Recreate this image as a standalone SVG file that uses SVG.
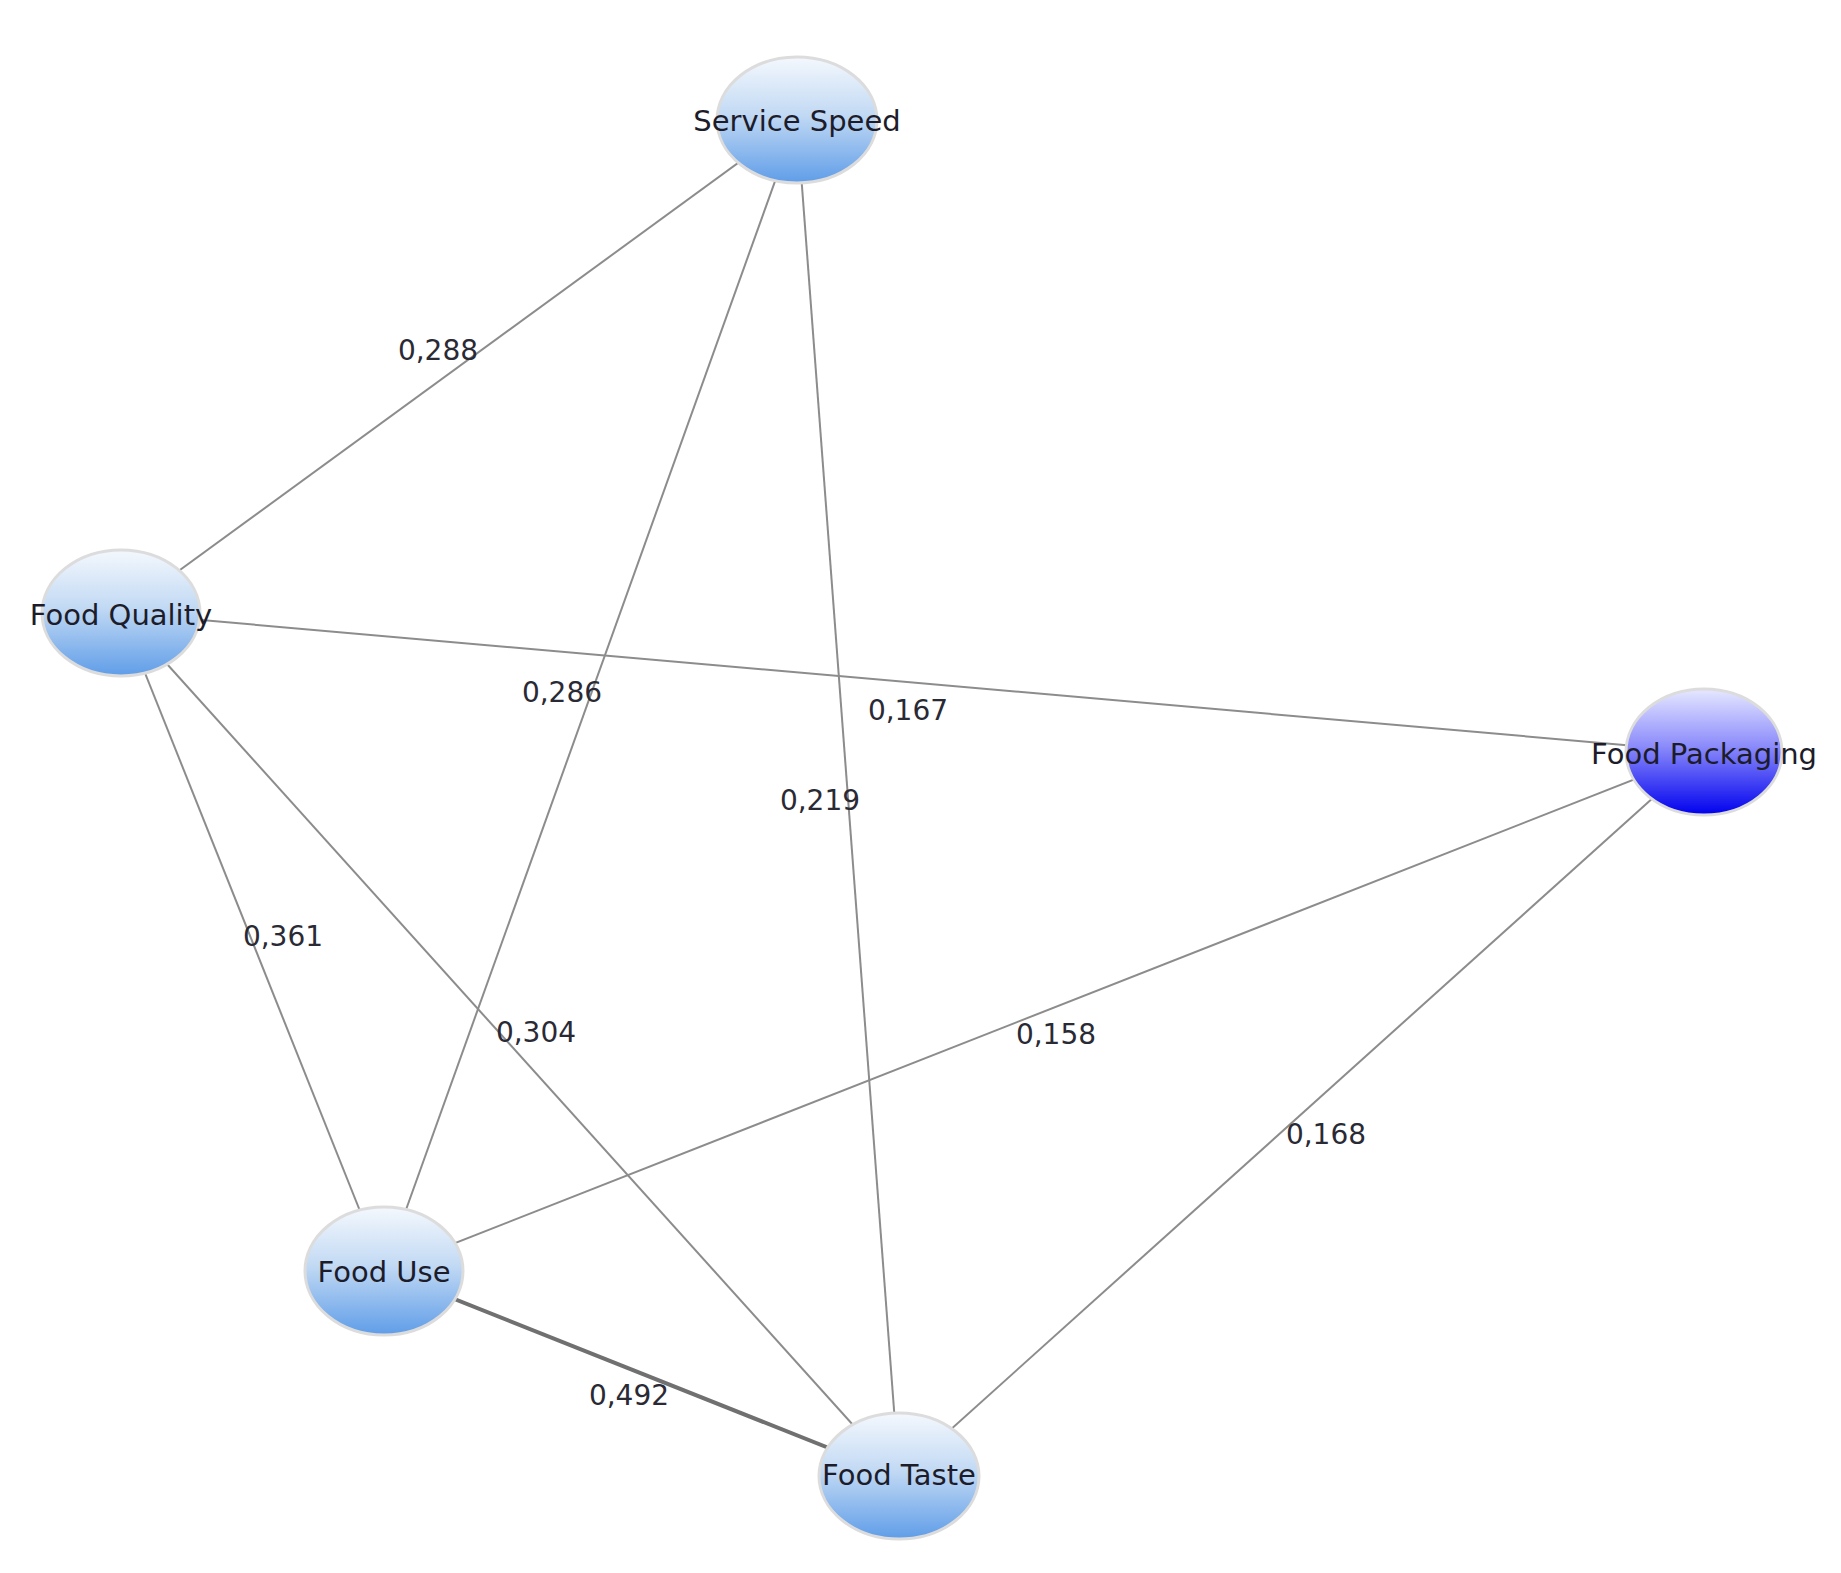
<svg xmlns="http://www.w3.org/2000/svg" width="1841" height="1573" viewBox="0 0 1841 1573">
<defs>
<linearGradient id="gBlue" x1="0" y1="0" x2="0" y2="1">
<stop offset="0" stop-color="#f4f8fd"/>
<stop offset="0.45" stop-color="#c3daf4"/>
<stop offset="1" stop-color="#5f9de8"/>
</linearGradient>
<linearGradient id="gDeep" x1="0" y1="0" x2="0" y2="1">
<stop offset="0" stop-color="#e6e8ff"/>
<stop offset="0.45" stop-color="#8c8cfb"/>
<stop offset="1" stop-color="#0000ee"/>
</linearGradient>
<style>
.edge{stroke:#8c8c8c;stroke-width:2;fill:none}
.thick{stroke:#707070;stroke-width:4}
.node{stroke:#dcdcdc;stroke-width:3}
.nlabel{font-family:"DejaVu Sans",Verdana,sans-serif;font-size:29px;fill:#1c1c2a;text-anchor:middle}
.elabel{font-family:"DejaVu Sans",Verdana,sans-serif;font-size:28px;fill:#2a2a35;text-anchor:middle}
</style>
</defs>
<rect width="1841" height="1573" fill="#ffffff"/>
<g id="connectors">
<line class="edge" x1="797" y1="120" x2="121" y2="613"/>
<line class="edge" x1="797" y1="120" x2="384" y2="1271"/>
<line class="edge" x1="797" y1="120" x2="899" y2="1476"/>
<line class="edge" x1="121" y1="613" x2="1704" y2="752"/>
<line class="edge" x1="121" y1="613" x2="384" y2="1271"/>
<line class="edge" x1="121" y1="613" x2="899" y2="1476"/>
<line class="edge" x1="1704" y1="752" x2="384" y2="1271"/>
<line class="edge" x1="1704" y1="752" x2="899" y2="1476"/>
<line class="edge thick" x1="384" y1="1271" x2="899" y2="1476"/>
<text class="elabel" x="438" y="360">0,288</text>
<text class="elabel" x="562" y="702">0,286</text>
<text class="elabel" x="908" y="720">0,167</text>
<text class="elabel" x="820" y="810">0,219</text>
<text class="elabel" x="283" y="946">0,361</text>
<text class="elabel" x="536" y="1042">0,304</text>
<text class="elabel" x="1056" y="1044">0,158</text>
<text class="elabel" x="1326" y="1144">0,168</text>
<text class="elabel" x="629" y="1405">0,492</text>
</g>
<g id="node-service-speed">
<ellipse class="node" cx="797" cy="120" rx="80" ry="63" fill="url(#gBlue)"/>
<text class="nlabel" x="797" y="131">Service Speed</text>
</g>
<g id="node-food-quality">
<ellipse class="node" cx="121" cy="613" rx="79" ry="63" fill="url(#gBlue)"/>
<text class="nlabel" x="121" y="625">Food Quality</text>
</g>
<g id="node-food-packaging">
<ellipse class="node" cx="1704" cy="752" rx="78" ry="63" fill="url(#gDeep)"/>
<text class="nlabel" x="1704" y="764">Food Packaging</text>
</g>
<g id="node-food-use">
<ellipse class="node" cx="384" cy="1271" rx="79" ry="64" fill="url(#gBlue)"/>
<text class="nlabel" x="384" y="1282">Food Use</text>
</g>
<g id="node-food-taste">
<ellipse class="node" cx="899" cy="1476" rx="80" ry="63" fill="url(#gBlue)"/>
<text class="nlabel" x="899" y="1485">Food Taste</text>
</g>
</svg>
